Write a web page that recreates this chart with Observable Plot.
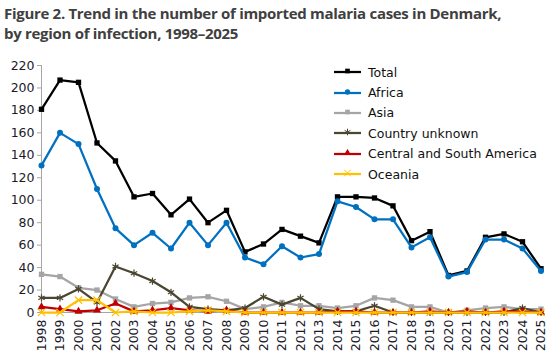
<!DOCTYPE html>
<html><head><meta charset="utf-8">
<script src="https://cdn.jsdelivr.net/npm/d3@7"></script>
<script src="https://cdn.jsdelivr.net/npm/@observablehq/plot@0.6"></script>
<style>
body{margin:0;background:#fff;width:550px;height:358px;overflow:hidden;position:relative;font-family:"DejaVu Sans",sans-serif}
#title{position:absolute;left:4px;top:3px;font:bold 15px "Open Sans",sans-serif;color:#404040;line-height:20px;letter-spacing:-0.3px}
#chart{position:absolute;left:0;top:44px}
#legend{position:absolute;left:334px;top:62px;font-size:12.5px;color:#111}
#legend .row{height:20.4px;display:flex;align-items:center}
#legend svg{margin-right:7px}
</style>
</head><body>
<div id="title">Figure 2. Trend in the number of imported malaria cases in Denmark,<br>by region of infection, 1998–2025</div>
<div id="chart"></div>
<div id="legend"></div>
<script>
const years = [1998,1999,2000,2001,2002,2003,2004,2005,2006,2007,2008,2009,2010,2011,2012,2013,2014,2015,2016,2017,2018,2019,2020,2021,2022,2023,2024,2025];
const yTicks = [0,20,40,60,80,100,120,140,160,180,200,220];
const seriesNames = ["Total","Africa","Asia","Country unknown","Central and South America","Oceania"];
const total   = [181,207,205,151,135,103,106,87,101,80,91,54,61,74,68,62,103,103,102,95,64,72,33,37,67,70,63,39];
const africa  = [131,160,150,110,75,60,71,57,80,60,80,49,43,59,49,52,99,94,83,83,58,67,32,36,65,65,57,37];
const asia    = [34,32,22,20,12,5,8,9,13,14,10,3,5,9,6,6,4,6,13,11,5,5,0,2,4,5,3,3];
const unknown = [13,13,21,9,41,35,28,18,5,3,2,4,14,7,13,3,1,1,6,0,0,0,0,0,0,0,4,0];
const central = [5,3,1,2,8,1,2,4,2,1,2,0,0,0,0,0,1,1,0,0,0,1,0,1,0,1,1,0];
const oceania = [0,0,11,11,0,1,0,0,1,2,1,0,0,0,0,0,0,0,0,0,0,0,0,0,0,0,0,0];
const colors  = ["#000000","#0070C0","#A5A5A5","#4A4630","#C00000","#FFC000"];
const symbols = ["square","circle","square","asterisk","triangle","times"];
const valuesList = [total,africa,asia,unknown,central,oceania];

const series = seriesNames.map((name,k)=>({
  name, color:colors[k], symbol:symbols[k],
  rows: years.map((y,i)=>({year:y, value:valuesList[k][i], series:name}))
}));

const marks = [
  Plot.ruleY([0],{stroke:"#A6A6A6",strokeWidth:1}),
  Plot.ruleX([years[0]],{stroke:"#A6A6A6",strokeWidth:1}),
  Plot.axisY({ticks:yTicks, tickSize:4, tickPadding:3, stroke:"#A6A6A6", fontSize:12.5, label:null}),
  Plot.axisX({ticks:years, tickFormat:d=>String(d), tickRotate:-90, tickSize:0, tickPadding:7, fontSize:12.5, label:null})
];
for (const s of series) {
  marks.push(Plot.line(s.rows,{x:"year",y:"value",stroke:s.color,strokeWidth:2.25}));
  const stroked = s.symbol==="asterisk"||s.symbol==="times";
  marks.push(Plot.dot(s.rows,{x:"year",y:"value",symbol:()=>s.symbol,r:stroked?3.4:3,
    fill:stroked?"none":s.color, stroke:stroked?s.color:"none", strokeWidth:1.2}));
}

const chart = Plot.plot({
  width:550, height:314,
  marginLeft:41, marginRight:9.5, marginTop:21, marginBottom:46,
  style:{fontFamily:"DejaVu Sans, sans-serif", color:"#1a1a2a", background:"#fff"},
  x:{domain:[years[0],years[years.length-1]]},
  y:{domain:[0,yTicks[yTicks.length-1]]},
  marks
});
document.getElementById("chart").appendChild(chart);

// legend
const legend = document.getElementById("legend");
for (const s of series) {
  const row = document.createElement("div"); row.className="row";
  const stroked = s.symbol==="asterisk"||s.symbol==="times";
  const sym = d3.symbol().type({square:d3.symbolSquare,circle:d3.symbolCircle,triangle:d3.symbolTriangle,asterisk:d3.symbolAsterisk,times:d3.symbolTimes}[s.symbol]).size(stroked?30:22)();
  row.innerHTML = `<svg width="27" height="10"><line x1="0" x2="27" y1="5" y2="5" stroke="${s.color}" stroke-width="2.25"/><path transform="translate(13.5,4)" d="${sym}" fill="${stroked?'none':s.color}" stroke="${stroked?s.color:'none'}" stroke-width="1"/></svg><span>${s.name}</span>`;
  legend.appendChild(row);
}
</script>
</body></html>
